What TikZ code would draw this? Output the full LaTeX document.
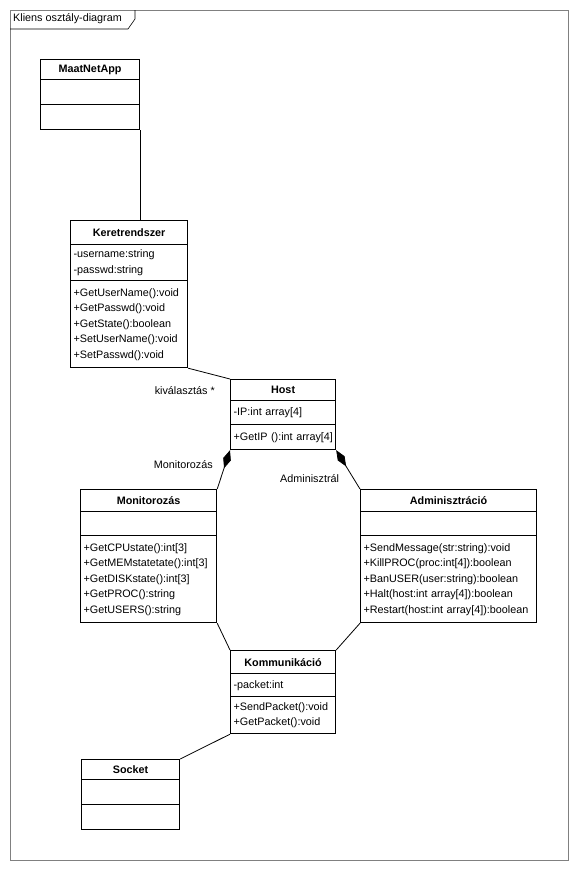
\documentclass[tikz,border=0pt]{standalone}
\usepackage{fontspec}
\setmainfont{Liberation Sans}
\usetikzlibrary{arrows.meta,matrix}

\newcommand{\members}[1]{\begin{tabular}{@{}l@{}}#1\end{tabular}}

\tikzset{
    umlfont/.style={font=\fontsize{10.8}{15.5}\selectfont},
    umlclass/.style n args={4}{matrix of nodes, anchor=north west,
        inner sep=0pt, row sep=-0.8pt, nodes in empty cells,
        nodes={draw, line width=0.8pt, text width=#1, align=left,
               inner xsep=3pt, inner ysep=0pt, anchor=center, umlfont},
        row 1/.style={nodes={font=\fontsize{10.8}{15.5}\selectfont\bfseries,
               align=center, minimum height=#2}},
        row 2/.style={nodes={minimum height=#3}},
        row 3/.style={nodes={minimum height=#4}}},
    assoc/.style={line width=0.8pt},
    compos/.style={line width=0.8pt, {Diamond[length=19pt,width=8pt]}-},
    rolelabel/.style={umlfont, inner sep=0pt},
}

\begin{document}
\begin{tikzpicture}[x=1pt, y=-1pt]
    \useasboundingbox (0,0) rectangle (578,870);
    \draw[gray, line width=0.8pt] (10,10) rectangle (568,860);
    \draw[line width=0.6pt] (10,29) -- (128,29) -- (135,19) -- (135,10);
    \node[rolelabel, anchor=west] (frametitle) at (13,19) {Kliens osztály-diagram};

    \matrix (maat) [umlclass={93pt}{20pt}{25pt}{25pt}] at (40,59)
    {
      MaatNetApp \\
      \\
      \\
    };
    \matrix (keret) [umlclass={111pt}{24pt}{36pt}{87pt}] at (70,220)
    {
      Keretrendszer \\
      \members{-username:string\\-passwd:string} \\
      \members{+GetUserName():void\\+GetPasswd():void\\+GetState():boolean\\
               +SetUserName():void\\+SetPasswd():void} \\
    };
    \matrix (host) [umlclass={99pt}{21pt}{24pt}{25pt}] at (230,379)
    {
      Host \\
      \members{-IP:int array[4]} \\
      \members{+GetIP ():int array[4]} \\
    };
    \matrix (monit) [umlclass={130pt}{22pt}{24pt}{87pt}] at (80,489)
    {
      Monitorozás \\
      \\
      \members{+GetCPUstate():int[3]\\+GetMEMstatetate():int[3]\\
               +GetDISKstate():int[3]\\+GetPROC():string\\+GetUSERS():string} \\
    };
    \matrix (admin) [umlclass={170pt}{22pt}{24pt}{87pt}] at (360,489)
    {
      Adminisztráció \\
      \\
      \members{+SendMessage(str:string):void\\+KillPROC(proc:int[4]):boolean\\
               +BanUSER(user:string):boolean\\+Halt(host:int array[4]):boolean\\
               +Restart(host:int array[4]):boolean} \\
    };
    \matrix (komm) [umlclass={99pt}{23pt}{23pt}{37pt}] at (230,650)
    {
      Kommunikáció \\
      \members{-packet:int} \\
      \members{+SendPacket():void\\+GetPacket():void} \\
    };
    \matrix (socket) [umlclass={92pt}{20pt}{25pt}{25pt}] at (81,759)
    {
      Socket \\
      \\
      \\
    };

    \draw[assoc] (maat.south east) -- (maat.south east |- keret.north);
    \draw[assoc] (keret.south east) -- (host.north west);
    \draw[compos] (host.south west) -- (monit.north east);
    \draw[compos] (host.south east) -- (admin.north west);
    \draw[assoc] (monit.south east) -- (komm.north west);
    \draw[assoc] (admin.south west) -- (komm.north east);
    \draw[assoc] (komm.south west) -- (socket.north east);

    \node[rolelabel, anchor=east] (kival) at (215,391) {kiválasztás *};
    \node[rolelabel, anchor=east] (monrole) at (213,465) {Monitorozás};
    \node[rolelabel, anchor=west] (admrole) at (280,479) {Adminisztrál};
  \end{tikzpicture}
\end{document}
